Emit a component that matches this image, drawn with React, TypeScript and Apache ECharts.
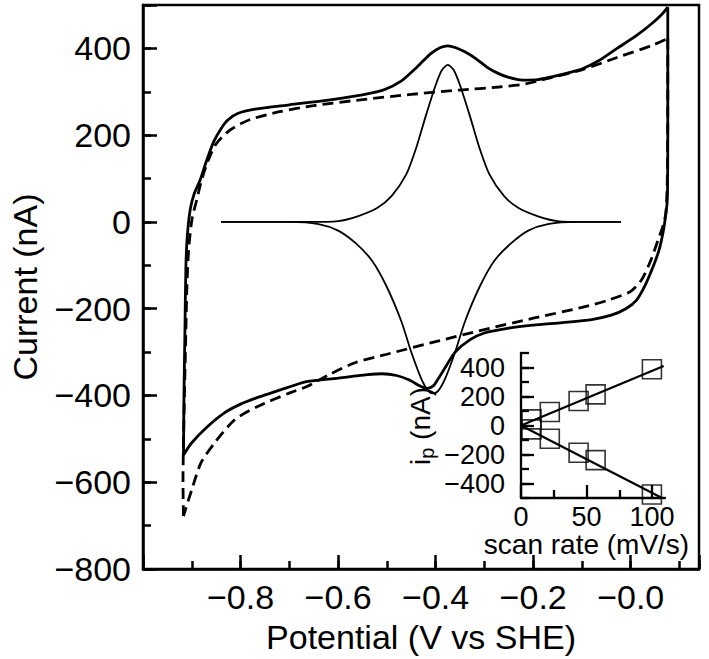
import React, { useEffect, useRef } from 'react';
import * as echarts from 'echarts';

// ---- Main CV (solid) : forward branch from lower-left vertex up to the upper-right corner
const cvSolidForward: number[][] = [
  [-0.917, -537], [-0.916, -400], [-0.914, -250], [-0.912, -100], [-0.909, -30], [-0.903, 30],
  [-0.895, 65], [-0.883, 96], [-0.870, 140], [-0.855, 185], [-0.84, 215], [-0.826, 235],
  [-0.806, 250], [-0.77, 260], [-0.70, 270], [-0.62, 281], [-0.55, 293], [-0.505, 305],
  [-0.47, 325], [-0.44, 355], [-0.41, 388], [-0.39, 402], [-0.375, 406], [-0.36, 402],
  [-0.34, 392], [-0.317, 376], [-0.295, 357], [-0.273, 343], [-0.25, 333], [-0.222, 327],
  [-0.19, 328], [-0.16, 335], [-0.13, 343], [-0.099, 353], [-0.065, 372], [-0.028, 400],
  [0.01, 428], [0.044, 458], [0.065, 480], [0.076, 495],
];
// ---- Main CV (solid) : reverse branch from the upper-right corner back to the lower-left vertex
const cvSolidReverse: number[][] = [
  [0.076, 495], [0.076, 400], [0.076, 200], [0.075, 50], [0.071, 10], [0.066, -26],
  [0.058, -65], [0.046, -103], [0.03, -145], [0.012, -180], [-0.01, -200], [-0.04, -215],
  [-0.08, -225], [-0.14, -232], [-0.2, -238], [-0.25, -245], [-0.3, -256], [-0.33, -272],
  [-0.36, -300], [-0.38, -335], [-0.395, -362], [-0.405, -378], [-0.418, -384], [-0.432, -378],
  [-0.455, -364], [-0.48, -354], [-0.51, -350], [-0.54, -352], [-0.564, -355], [-0.6, -360],
  [-0.665, -368], [-0.699, -380], [-0.766, -405], [-0.80, -420], [-0.833, -440], [-0.867, -471],
  [-0.9, -509], [-0.917, -537],
];
// ---- Background CV (dashed)
const cvDashForward: number[][] = [
  [-0.917, -678], [-0.918, -600], [-0.916, -450], [-0.913, -300], [-0.910, -150], [-0.906, -58],
  [-0.899, 10], [-0.890, 50], [-0.880, 96], [-0.867, 140], [-0.85, 180], [-0.82, 213],
  [-0.78, 236], [-0.72, 254], [-0.65, 268], [-0.55, 282], [-0.45, 294], [-0.35, 304],
  [-0.27, 311], [-0.216, 318], [-0.172, 330], [-0.099, 351], [-0.028, 379], [0.044, 407],
  [0.076, 423],
];
const cvDashReverse: number[][] = [
  [0.076, 423], [0.076, 300], [0.075, 100], [0.072, 20], [0.066, -10], [0.056, -42],
  [0.04, -92], [0.022, -134], [0.0, -160], [-0.045, -180], [-0.1, -197], [-0.2, -222],
  [-0.3, -248], [-0.4, -276], [-0.5, -305], [-0.564, -324], [-0.615, -350], [-0.665, -380],
  [-0.699, -394], [-0.766, -426], [-0.812, -456], [-0.853, -509], [-0.881, -555], [-0.9, -617],
  [-0.917, -678],
];
// ---- Background-subtracted peaks (thin)
const peakOxidation: number[][] = [
  [-0.84, 0], [-0.66, 0], [-0.6, 2], [-0.56, 13], [-0.52, 32], [-0.49, 60], [-0.46, 110],
  [-0.44, 170], [-0.42, 245], [-0.40, 315], [-0.387, 350], [-0.375, 362], [-0.363, 350],
  [-0.35, 315], [-0.33, 245], [-0.31, 170], [-0.29, 110], [-0.26, 60], [-0.23, 32],
  [-0.19, 13], [-0.15, 2], [-0.09, 0], [-0.02, 0],
];
const peakReduction: number[][] = [
  [-0.84, 0], [-0.70, 0], [-0.64, -5], [-0.60, -20], [-0.564, -49], [-0.53, -90], [-0.50, -150],
  [-0.47, -230], [-0.45, -300], [-0.43, -360], [-0.415, -390], [-0.405, -395], [-0.395, -390],
  [-0.38, -360], [-0.36, -300], [-0.34, -230], [-0.31, -150], [-0.28, -90], [-0.245, -49],
  [-0.21, -20], [-0.17, -5], [-0.11, 0], [-0.02, 0],
];
// ---- Inset: peak current vs scan rate
const scanRates = [8, 22, 44, 57, 100];
const anodicPeak = [42, 93, 169, 215, 388];
const cathodicPeak = [-27, -91, -188, -239, -476];
const anodicFit: number[][] = [[0, 0], [109, 411]];
const cathodicFit: number[][] = [[0, 0], [107, -497]];

const FONT = 'Liberation Sans, Arial, Helvetica, sans-serif';
const BLACK = '#000';

export default function App() {
  const ref = useRef<HTMLDivElement>(null);
  useEffect(() => {
    if (!ref.current) return;
    const chart = echarts.init(ref.current, null, { renderer: 'svg' });
    const mainLine = (data: number[][], width: number, type: any) => ({
      type: 'line', xAxisIndex: 1, yAxisIndex: 1, data, symbol: 'none', smooth: 0.25,
      lineStyle: { color: BLACK, width, type }, silent: true,
    });
    const yFmt = (v: number) => (v > 450 ? '' : v < 0 ? '\u2212' + Math.abs(v) : String(v));
    const xFmt = (v: number) => (v < -0.95 || v > 0.05 ? '' : '\u2212' + Math.abs(v).toFixed(1));
    const insetY = (v: number) => (v < 0 ? '\u2212' + Math.abs(v) : String(v));
    const line = (w: number, show = true) => ({ show, onZero: false, lineStyle: { color: BLACK, width: w } });
    const option: any = {
      animation: false,
      backgroundColor: '#fff',
      textStyle: { fontFamily: FONT, color: BLACK },
      grid: [
        { left: 135, top: 5, width: 564, height: 565, show: true, borderColor: BLACK, borderWidth: 2.5, backgroundColor: 'transparent' },
        { left: 521, top: 353, width: 144, height: 145 },
        { left: 521, top: 368, width: 131, height: 116 },
      ],
      xAxis: [
        { type: 'value', gridIndex: 0, position: 'bottom', min: -1.0, max: 0.14, interval: 0.1,
          axisLine: line(2.5),
          axisTick: { show: true, inside: true, length: 8, lineStyle: { color: BLACK, width: 2.5 } },
          axisLabel: { show: false }, splitLine: { show: false } },
        { type: 'value', gridIndex: 0, position: 'bottom', min: -1.0, max: 0.14, interval: 0.2,
          axisLine: line(2.5, false),
          axisTick: { show: true, inside: true, length: 14, lineStyle: { color: BLACK, width: 2.5 } },
          axisLabel: { show: true, formatter: xFmt, margin: 11, fontSize: 34, color: BLACK, fontFamily: FONT },
          splitLine: { show: false },
          name: 'Potential (V vs SHE)', nameLocation: 'middle', nameGap: 51,
          nameTextStyle: { fontSize: 34, color: BLACK, fontFamily: FONT } },
        { type: 'value', gridIndex: 1, position: 'bottom', min: 0, max: 110,
          axisLine: line(2.3),
          axisTick: { show: false }, axisLabel: { show: false }, splitLine: { show: false } },
        { type: 'value', gridIndex: 2, position: 'bottom', offset: 14, min: 0, max: 100, interval: 50,
          axisLine: line(2.3, false),
          axisTick: { show: true, inside: true, length: 13, lineStyle: { color: BLACK, width: 2.3 } },
          minorTick: { show: true, splitNumber: 2, length: 8, lineStyle: { color: BLACK, width: 2.3 } },
          axisLabel: { show: true, margin: 5, fontSize: 27, color: BLACK, fontFamily: FONT },
          splitLine: { show: false }, minorSplitLine: { show: false },
          name: 'scan rate (mV/s)', nameLocation: 'middle', nameGap: 32,
          nameTextStyle: { fontSize: 28, color: BLACK, fontFamily: FONT } },
      ],
      yAxis: [
        { type: 'value', gridIndex: 0, position: 'left', min: -800, max: 500, interval: 100,
          axisLine: line(2.5),
          axisTick: { show: true, inside: true, length: 8, lineStyle: { color: BLACK, width: 2.5 } },
          axisLabel: { show: false }, splitLine: { show: false } },
        { type: 'value', gridIndex: 0, position: 'left', min: -800, max: 500, interval: 200,
          axisLine: line(2.5, false),
          axisTick: { show: true, inside: true, length: 14, lineStyle: { color: BLACK, width: 2.5 } },
          axisLabel: { show: true, formatter: yFmt, margin: 12, fontSize: 34, color: BLACK, fontFamily: FONT },
          splitLine: { show: false },
          name: 'Current (nA)', nameLocation: 'middle', nameGap: 101,
          nameTextStyle: { fontSize: 34, color: BLACK, fontFamily: FONT } },
        { type: 'value', gridIndex: 1, position: 'left', min: -500, max: 500, interval: 100,
          axisLine: line(2.3),
          axisTick: { show: true, inside: true, length: 8, lineStyle: { color: BLACK, width: 2.3 } },
          axisLabel: { show: false }, splitLine: { show: false } },
        { type: 'value', gridIndex: 2, position: 'left', min: -400, max: 400, interval: 200,
          axisLine: line(2.3, false),
          axisTick: { show: true, inside: true, length: 13, lineStyle: { color: BLACK, width: 2.3 } },
          axisLabel: { show: true, formatter: insetY, margin: 16, fontSize: 27, color: BLACK, fontFamily: FONT },
          splitLine: { show: false },
          name: '{a|i}{b|p}{a| (nA)}', nameLocation: 'middle', nameGap: 84,
          nameTextStyle: {
            fontSize: 28, color: BLACK, fontFamily: FONT,
            rich: {
              a: { fontSize: 28, color: BLACK, fontFamily: FONT },
              b: { fontSize: 20, color: BLACK, fontFamily: FONT, verticalAlign: 'bottom', lineHeight: 34 },
            },
          } },
      ],
      series: [
        mainLine(cvSolidForward, 2.8, 'solid'),
        mainLine(cvSolidReverse, 2.8, 'solid'),
        mainLine(cvDashForward, 2.8, [11, 6]),
        mainLine(cvDashReverse, 2.8, [11, 6]),
        mainLine(peakOxidation, 1.8, 'solid'),
        mainLine(peakReduction, 1.8, 'solid'),
        { type: 'line', xAxisIndex: 2, yAxisIndex: 2, data: anodicFit, symbol: 'none',
          lineStyle: { color: BLACK, width: 2.2 } },
        { type: 'line', xAxisIndex: 2, yAxisIndex: 2, data: cathodicFit, symbol: 'none',
          lineStyle: { color: BLACK, width: 2.2 } },
        { type: 'scatter', xAxisIndex: 2, yAxisIndex: 2, symbol: 'rect', symbolSize: 19,
          data: scanRates.map((r, i) => [r, anodicPeak[i]]),
          itemStyle: { color: 'rgba(0,0,0,0)', borderColor: BLACK, borderWidth: 1.6 } },
        { type: 'scatter', xAxisIndex: 2, yAxisIndex: 2, symbol: 'rect', symbolSize: 19,
          data: scanRates.map((r, i) => [r, cathodicPeak[i]]),
          itemStyle: { color: 'rgba(0,0,0,0)', borderColor: BLACK, borderWidth: 1.6 } },
      ],
    };
    chart.setOption(option);
    return () => chart.dispose();
  }, []);
  return <div ref={ref} style={{ position: 'fixed', left: 0, top: 0, width: 709, height: 659 }} />;
}
